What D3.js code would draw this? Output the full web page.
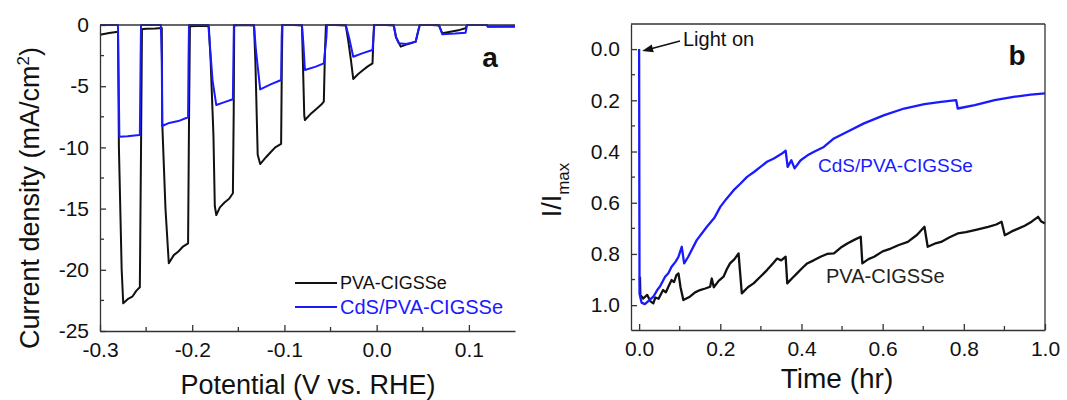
<!DOCTYPE html>
<html>
<head>
<meta charset="utf-8">
<script src="https://cdn.jsdelivr.net/npm/d3@7"></script>
<style>
  body { margin: 0; background: #fff; }
  text { font-family: "Liberation Sans", Arial, sans-serif; }
</style>
</head>
<body>
<main></main>
<script>
// ---- data ----

// panel a: chopped-light LSV, [potential V vs RHE, current density mA/cm2]
const lsvBlack = [
  [-0.300,-0.80],[-0.290,-0.65],[-0.2805,-0.55],
  [-0.2795,-10],[-0.2765,-20],[-0.2748,-22.74],[-0.270,-22.4],[-0.265,-22.2],[-0.2605,-21.7],[-0.2568,-21.43],[-0.2555,-10],[-0.2545,-0.35],
  [-0.250,-0.30],[-0.240,-0.28],[-0.2330,-0.25],
  [-0.2325,-8],[-0.229,-15],[-0.2254,-19.47],[-0.220,-18.8],[-0.215,-18.5],[-0.210,-18.1],[-0.2045,-17.84],[-0.2035,-8],[-0.2025,-0.1],
  [-0.195,-0.08],[-0.185,-0.08],[-0.1820,-0.1],
  [-0.180,-3],[-0.177,-9],[-0.1755,-14.8],[-0.1739,-15.52],[-0.170,-14.9],[-0.165,-14.5],[-0.160,-14.2],[-0.1559,-13.75],[-0.1550,-7],[-0.1545,-0.05],
  [-0.145,0],[-0.133,-0.05],
  [-0.1315,-3],[-0.129,-10.6],[-0.1263,-11.36],[-0.120,-10.8],[-0.115,-10.4],[-0.110,-10.0],[-0.1036,-9.72],[-0.1028,-3],[-0.1022,0],
  [-0.090,0],[-0.081,-0.05],
  [-0.0800,-3],[-0.0785,-7.4],[-0.0778,-7.76],[-0.072,-7.3],[-0.066,-6.9],[-0.060,-6.5],[-0.0573,-6.26],[-0.0560,-2],[-0.0550,0],
  [-0.045,0],[-0.0335,-0.05],
  [-0.031,-1.2],[-0.028,-2.8],[-0.0254,-4.41],[-0.020,-4.0],[-0.015,-3.7],[-0.010,-3.4],[-0.0045,-3.13],[-0.0035,-1],[-0.0029,0],
  [0.010,0],[0.0185,-0.05],
  [0.021,-1.0],[0.0261,-1.77],[0.032,-1.6],[0.037,-1.5],[0.0423,-1.36],[0.045,-0.5],[0.0467,0],
  [0.060,0],[0.0676,-0.05],
  [0.0712,-0.68],[0.080,-0.55],[0.090,-0.40],[0.0964,-0.27],[0.098,0],
  [0.110,0],[0.1195,0],[0.1205,-0.12],[0.150,-0.10]
];

const lsvBlue = [
  [-0.300,0],[-0.2805,0],[-0.2800,-3],[-0.2790,-9.12],[-0.270,-9.08],[-0.260,-9.0],[-0.2568,-8.99],[-0.2560,-3],[-0.2555,0],
  [-0.234,0],[-0.2330,-3],[-0.2325,-8.25],[-0.225,-8.0],[-0.215,-7.85],[-0.2045,-7.54],[-0.2040,-3],[-0.2035,0],
  [-0.1825,0],[-0.181,-1.5],[-0.178,-4.5],[-0.1739,-6.54],[-0.165,-6.3],[-0.1559,-6.07],[-0.1552,-2],[-0.1548,0],
  [-0.1330,0],[-0.131,-2],[-0.1263,-5.26],[-0.115,-4.85],[-0.1036,-4.49],[-0.1030,-1],[-0.1025,0],
  [-0.0810,0],[-0.0795,-1.5],[-0.0778,-3.68],[-0.066,-3.4],[-0.0573,-3.13],[-0.0545,-1],[-0.0539,0],
  [-0.0335,0],[-0.030,-1.0],[-0.0254,-2.59],[-0.015,-2.3],[-0.0045,-2.04],[-0.003,-0.5],[-0.0025,0],
  [0.0185,0],[0.021,-1.0],[0.024,-1.5],[0.032,-1.55],[0.0423,-1.36],[0.045,-0.5],[0.0467,0],
  [0.0676,0],[0.0712,-0.76],[0.085,-0.7],[0.0964,-0.63],[0.098,0],
  [0.1195,0],[0.1205,-0.14],[0.150,-0.14]
];

// panel b: stability, [time hr, I/Imax]
const stabBlue = [
  [0.000,0.000],[0.001,0.955],[0.006,0.99],[0.014,0.996],[0.022,0.985],[0.035,0.967],[0.045,0.94],
  [0.051,0.928],[0.064,0.889],[0.072,0.875],[0.080,0.85],[0.090,0.83],[0.097,0.811],[0.105,0.772],
  [0.111,0.837],[0.121,0.811],[0.142,0.746],[0.167,0.694],[0.185,0.66],[0.200,0.616],[0.215,0.585],
  [0.233,0.551],[0.250,0.525],[0.266,0.499],[0.283,0.48],[0.299,0.46],[0.315,0.44],[0.332,0.427],
  [0.350,0.41],[0.361,0.397],[0.366,0.46],[0.375,0.434],[0.383,0.466],[0.398,0.434],[0.415,0.415],
  [0.431,0.401],[0.455,0.382],[0.480,0.349],[0.513,0.323],[0.554,0.29],[0.604,0.258],[0.653,0.232],
  [0.703,0.215],[0.744,0.206],[0.781,0.199],[0.785,0.232],[0.827,0.219],[0.876,0.199],[0.926,0.186],
  [0.965,0.178],[1.000,0.173]
];

const stabBlack = [
  [0.002,0.889],[0.003,0.96],[0.010,0.974],[0.020,0.96],[0.028,0.985],[0.035,0.993],[0.040,0.97],
  [0.048,0.975],[0.059,0.941],[0.066,0.95],[0.072,0.928],[0.080,0.902],[0.086,0.91],[0.092,0.883],
  [0.097,0.876],[0.102,0.93],[0.109,0.98],[0.125,0.967],[0.138,0.95],[0.150,0.941],[0.163,0.935],
  [0.175,0.928],[0.179,0.896],[0.184,0.93],[0.196,0.905],[0.208,0.889],[0.216,0.86],[0.224,0.837],
  [0.235,0.82],[0.245,0.798],[0.253,0.954],[0.268,0.93],[0.282,0.915],[0.298,0.89],[0.315,0.863],
  [0.328,0.84],[0.340,0.818],[0.350,0.825],[0.361,0.811],[0.365,0.915],[0.377,0.895],[0.389,0.876],
  [0.402,0.855],[0.414,0.837],[0.430,0.825],[0.447,0.811],[0.463,0.80],[0.480,0.798],[0.497,0.775],
  [0.513,0.759],[0.530,0.745],[0.546,0.733],[0.550,0.837],[0.565,0.82],[0.579,0.811],[0.600,0.79],
  [0.620,0.779],[0.640,0.765],[0.662,0.753],[0.685,0.725],[0.703,0.694],[0.711,0.772],[0.728,0.76],
  [0.744,0.753],[0.765,0.735],[0.785,0.72],[0.805,0.715],[0.827,0.707],[0.845,0.70],[0.860,0.694],
  [0.880,0.685],[0.893,0.674],[0.901,0.727],[0.918,0.712],[0.934,0.701],[0.950,0.69],[0.967,0.674],
  [0.983,0.655],[0.990,0.672],[1.000,0.681]
];

// tick values
const aXTicks = [-0.3, -0.2, -0.1, 0.0, 0.1];
const aXMinor = [-0.25, -0.15, -0.05, 0.05];
const aYTicks = [0, -5, -10, -15, -20, -25];
const aYMinor = [-2.5, -7.5, -12.5, -17.5, -22.5];
const bXTicks = [0.0, 0.2, 0.4, 0.6, 0.8, 1.0];
const bXMinor = [0.1, 0.3, 0.5, 0.7, 0.9];
const bYTicks = [0.0, 0.2, 0.4, 0.6, 0.8, 1.0];
const bYMinor = [0.1, 0.3, 0.5, 0.7, 0.9];

const labels = ["PVA-CIGSSe", "CdS/PVA-CIGSSe"];
const colors = ["#111111", "#1a1aff"];

// ---- canvas ----
const svg = d3.select("main").append("svg")
  .attr("width", 1067)
  .attr("height", 400);

const axisColor = "#333";

function drawAxes(g, xScale, yScale, o) {
  const fmt = o.fmt;

  const xAxis = g.append("g").attr("transform", `translate(0,${yScale.range()[0]})`)
    .call(d3.axisBottom(xScale).tickValues(o.xTicks).tickSizeInner(-6).tickSizeOuter(0).tickPadding(11).tickFormat(fmt.x));
  xAxis.append("g").selectAll("line").data(o.xMinor).join("line")
    .attr("x1", d => xScale(d)).attr("x2", d => xScale(d)).attr("y1", 0).attr("y2", -4);

  const yAxis = g.append("g").attr("transform", `translate(${xScale.range()[0]},0)`)
    .call(d3.axisLeft(yScale).tickValues(o.yTicks).tickSizeInner(-6).tickSizeOuter(0).tickPadding(11).tickFormat(fmt.y));
  yAxis.append("g").selectAll("line").data(o.yMinor).join("line")
    .attr("y1", d => yScale(d)).attr("y2", d => yScale(d)).attr("x1", 0).attr("x2", 4);

  [xAxis, yAxis].forEach(a => {
    a.selectAll("path, line").attr("stroke", axisColor).attr("stroke-width", 1.3);
    a.selectAll("text").attr("font-size", 21).attr("fill", "#111")
      .attr("font-family", "'Liberation Sans', Arial, sans-serif");
  });

  // top border
  g.append("line")
    .attr("x1", xScale.range()[0]).attr("x2", xScale.range()[1])
    .attr("y1", yScale.range()[1]).attr("y2", yScale.range()[1])
    .attr("stroke", axisColor).attr("stroke-width", 1.3);
  if (o.rightBorder) {
    g.append("line")
      .attr("x1", xScale.range()[1]).attr("x2", xScale.range()[1])
      .attr("y1", yScale.range()[1]).attr("y2", yScale.range()[0])
      .attr("stroke", axisColor).attr("stroke-width", 1.3);
  }
}

// ---- panel a ----
const ax = d3.scaleLinear().domain([-0.3, 0.15]).range([100, 515]);
const ay = d3.scaleLinear().domain([-25, 0]).range([331, 25]);
const ga = svg.append("g");

const lineA = d3.line().x(d => ax(d[0])).y(d => ay(d[1]));
[lsvBlack, lsvBlue].forEach((s, i) => {
  ga.append("path").datum(s)
    .attr("fill", "none").attr("stroke", colors[i]).attr("stroke-width", 2)
    .attr("stroke-linejoin", "round")
    .attr("d", lineA);
});

drawAxes(ga, ax, ay, {
  xTicks: aXTicks, xMinor: aXMinor, yTicks: aYTicks, yMinor: aYMinor,
  fmt: { x: d => d.toFixed(1), y: d => String(d) }, rightBorder: false
});

ga.append("text").attr("x", 308).attr("y", 394).attr("text-anchor", "middle")
  .attr("font-size", 27).attr("fill", "#111").text("Potential (V vs. RHE)");

const aTitle = ga.append("text")
  .attr("transform", "translate(39,198) rotate(-90)")
  .attr("text-anchor", "middle").attr("font-size", 27).attr("fill", "#111");
aTitle.append("tspan").text("Current density (mA/cm");
aTitle.append("tspan").attr("font-size", 17).attr("dy", -10).text("2");
aTitle.append("tspan").attr("dy", 10).text(")");

ga.append("text").attr("x", 490).attr("y", 67).attr("text-anchor", "middle")
  .attr("font-size", 28).attr("font-weight", "bold").attr("fill", "#111").text("a");

// legend
const legend = ga.append("g");
labels.forEach((lab, i) => {
  const y = 283 + i * 24;
  legend.append("line").attr("x1", 295).attr("x2", 337).attr("y1", y).attr("y2", y)
    .attr("stroke", colors[i]).attr("stroke-width", 2);
  legend.append("text").attr("x", 340).attr("y", y).attr("dy", "0.35em")
    .attr("font-size", i === 0 ? 18 : 20).attr("fill", colors[i]).text(lab);
});

// ---- panel b ----
const bx = d3.scaleLinear().domain([-0.02, 1.0]).range([631, 1045]);
const by = d3.scaleLinear().domain([-0.098, 1.097]).range([24, 330]);
const gb = svg.append("g");

const lineB = d3.line().x(d => bx(d[0])).y(d => by(d[1]));
[stabBlack, stabBlue].forEach((s, i) => {
  gb.append("path").datum(s)
    .attr("fill", "none").attr("stroke", colors[i]).attr("stroke-width", 2.3)
    .attr("stroke-linejoin", "round")
    .attr("d", lineB);
});

// y axis is reversed, so swap range ends for drawAxes
const byAxis = d3.scaleLinear().domain([1.097, -0.098]).range([330, 24]);
drawAxes(gb, bx, byAxis, {
  xTicks: bXTicks, xMinor: bXMinor, yTicks: bYTicks, yMinor: bYMinor,
  fmt: { x: d => d.toFixed(1), y: d => d.toFixed(1) }, rightBorder: true
});

gb.append("text").attr("x", 837).attr("y", 388).attr("text-anchor", "middle")
  .attr("font-size", 28).attr("fill", "#111").text("Time (hr)");

const bTitle = gb.append("text")
  .attr("transform", "translate(561,190) rotate(-90)")
  .attr("text-anchor", "middle").attr("font-size", 27).attr("fill", "#111");
bTitle.append("tspan").text("I/I");
bTitle.append("tspan").attr("font-size", 17).attr("dy", 8).text("max");

gb.append("text").attr("x", 1017).attr("y", 65).attr("text-anchor", "middle")
  .attr("font-size", 28).attr("font-weight", "bold").attr("fill", "#111").text("b");

gb.append("text").attr("x", 818).attr("y", 172)
  .attr("font-size", 19).attr("fill", colors[1]).text(labels[1]);
gb.append("text").attr("x", 826).attr("y", 283)
  .attr("font-size", 20).attr("fill", "#222").text(labels[0]);

// "Light on" annotation
gb.append("text").attr("x", 683).attr("y", 46)
  .attr("font-size", 20).attr("fill", "#111").text("Light on");
const arrowStart = [680, 41];
const arrowTip = [bx(0) + 3, by(0) + 2];
gb.append("line")
  .attr("x1", arrowStart[0]).attr("y1", arrowStart[1])
  .attr("x2", arrowTip[0] + 8).attr("y2", arrowTip[1] - 2)
  .attr("stroke", "#111").attr("stroke-width", 1.5);
const ang = Math.atan2(arrowTip[1] - arrowStart[1], arrowTip[0] - arrowStart[0]);
const head = [
  arrowTip,
  [arrowTip[0] - 11 * Math.cos(ang) + 4 * Math.sin(ang), arrowTip[1] - 11 * Math.sin(ang) - 4 * Math.cos(ang)],
  [arrowTip[0] - 11 * Math.cos(ang) - 4 * Math.sin(ang), arrowTip[1] - 11 * Math.sin(ang) + 4 * Math.cos(ang)]
];
gb.append("path").attr("d", d3.line()(head) + "Z").attr("fill", "#111");
</script>
</body>
</html>
